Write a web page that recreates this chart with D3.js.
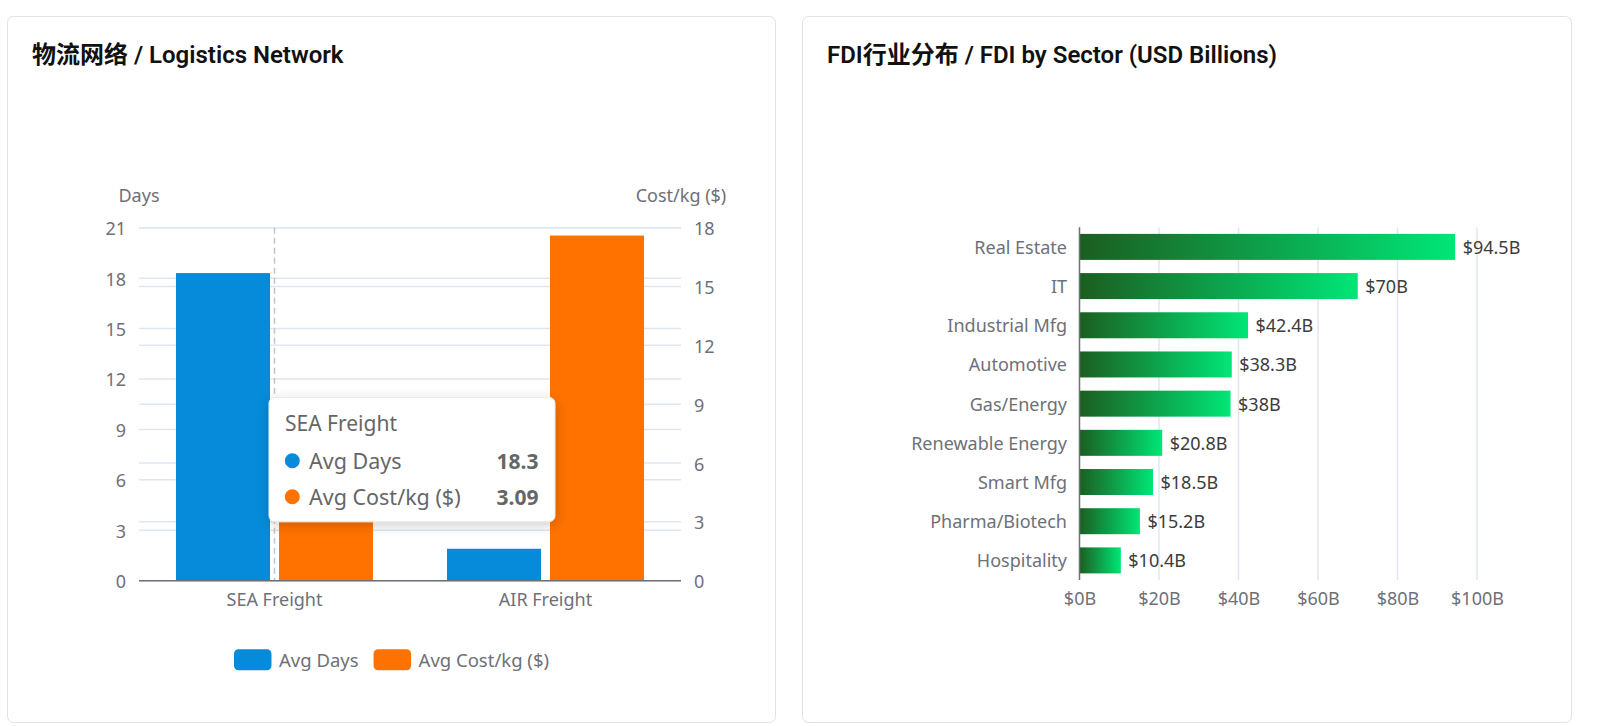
<!DOCTYPE html>
<html>
<head>
<meta charset="utf-8">
<script src="https://cdn.jsdelivr.net/npm/d3@7/dist/d3.min.js"></script>
<style>
  html, body { margin: 0; padding: 0; background: #fff; }
  svg { display: block; }
  text { font-family: "Noto Sans", "Noto Sans CJK SC", sans-serif; }
  .title { font-family: Roboto, "Noto Sans CJK SC", sans-serif; font-weight: 600; font-size: 24px; fill: #111; }
</style>
</head>
<body>
<svg id="chart" width="1599" height="726"></svg>
<script>
// ---------- DATA ----------
const logisticsCategories = ["SEA Freight", "AIR Freight"];
const logisticsSeries = ["Avg Days", "Avg Cost/kg ($)"];
const avgDays = [18.3, 1.9];
const avgCost = [3.09, 17.6];
const daysTicks = [0, 3, 6, 9, 12, 15, 18, 21];
const costTicks = [0, 3, 6, 9, 12, 15, 18];

const sectors = ["Real Estate", "IT", "Industrial Mfg", "Automotive", "Gas/Energy",
                 "Renewable Energy", "Smart Mfg", "Pharma/Biotech", "Hospitality"];
const fdiValues = [94.5, 70, 42.4, 38.3, 38, 20.8, 18.5, 15.2, 10.4];
const fdiTicks = [0, 20, 40, 60, 80, 100];

const seriesColors = ["#058bd9", "#ff7200"];
const axisColor = "#6e7079";
const gridColor = "#e0e6f1";

const svg = d3.select("#chart");

// ---------- defs ----------
const defs = svg.append("defs");
const grad = defs.append("linearGradient").attr("id", "greenGrad")
  .attr("x1", 0).attr("y1", 0).attr("x2", 1).attr("y2", 0);
grad.append("stop").attr("offset", "0%").attr("stop-color", "#1b5e20");
grad.append("stop").attr("offset", "100%").attr("stop-color", "#00e676");
const shadow = defs.append("filter").attr("id", "tipShadow")
  .attr("x", "-20%").attr("y", "-20%").attr("width", "140%").attr("height", "150%");
shadow.append("feDropShadow").attr("dx", 1).attr("dy", 3).attr("stdDeviation", 6)
  .attr("flood-color", "#000").attr("flood-opacity", 0.2);

// ---------- cards ----------
const cards = [
  { x: 7.5, y: 16.5, w: 768, h: 706, title: "物流网络 / Logistics Network" },
  { x: 802.5, y: 16.5, w: 769, h: 706, title: "FDI行业分布 / FDI by Sector (USD Billions)" }
];
cards.forEach(c => {
  svg.append("rect").attr("x", c.x).attr("y", c.y).attr("width", c.w).attr("height", c.h)
    .attr("rx", 6).attr("fill", "#fff").attr("stroke", "#e2e2e2").attr("stroke-width", 1);
  svg.append("text").attr("class", "title").attr("x", c.x + 24.5).attr("y", 55)
    .attr("dominant-baseline", "central").text(c.title);
});

// ---------- LEFT: logistics grouped bar, dual axis ----------
{
  const top = 227.7, bottom = 580.7, left = 139, right = 681;
  const yL = d3.scaleLinear().domain([0, 21]).range([bottom, top]);
  const yR = d3.scaleLinear().domain([0, 18]).range([bottom, top]);
  const x0 = d3.scaleBand().domain(logisticsCategories).range([left, right]);
  const x1 = d3.scaleBand().domain(logisticsSeries).range([0, x0.bandwidth()])
    .paddingInner(0.0874).paddingOuter(0.359);
  const g = svg.append("g");

  // grid lines from both axes
  g.append("g").selectAll("line").data(daysTicks).join("line")
    .attr("x1", left).attr("x2", right).attr("y1", d => yL(d)).attr("y2", d => yL(d))
    .attr("stroke", gridColor).attr("stroke-width", 1.5);
  g.append("g").selectAll("line").data(costTicks).join("line")
    .attr("x1", left).attr("x2", right).attr("y1", d => yR(d)).attr("y2", d => yR(d))
    .attr("stroke", gridColor).attr("stroke-width", 1.5);

  // axes labels via d3 axes
  const axL = g.append("g").attr("transform", `translate(${left},0)`)
    .call(d3.axisLeft(yL).tickValues(daysTicks).tickSize(0).tickPadding(13));
  const axR = g.append("g").attr("transform", `translate(${right},0)`)
    .call(d3.axisRight(yR).tickValues(costTicks).tickSize(0).tickPadding(13));
  [axL, axR].forEach(a => {
    a.select(".domain").remove();
    a.selectAll("text").attr("fill", axisColor).style("font-size", "18px")
      .style("font-family", '"Noto Sans", sans-serif').attr("dy", null)
      .attr("dominant-baseline", "central");
  });

  // axis names
  g.append("text").attr("x", left).attr("y", 195).attr("text-anchor", "middle")
    .attr("dominant-baseline", "central").attr("fill", axisColor).style("font-size", "18px").text("Days");
  g.append("text").attr("x", right).attr("y", 195).attr("text-anchor", "middle")
    .attr("dominant-baseline", "central").attr("fill", axisColor).style("font-size", "18px").text("Cost/kg ($)");

  // axis pointer (dashed) on SEA Freight
  const px = x0(logisticsCategories[0]) + x0.bandwidth() / 2;
  g.append("line").attr("x1", px).attr("x2", px).attr("y1", top).attr("y2", bottom)
    .attr("stroke", "#c4c4c4").attr("stroke-width", 1.5).attr("stroke-dasharray", "6,4");

  // bars
  const rows = logisticsCategories.map((c, i) => ({ c, vals: [
    { s: logisticsSeries[0], v: avgDays[i], y: yL, col: seriesColors[0] },
    { s: logisticsSeries[1], v: avgCost[i], y: yR, col: seriesColors[1] }
  ] }));
  const cat = g.append("g").selectAll("g").data(rows).join("g")
    .attr("transform", d => `translate(${x0(d.c)},0)`);
  cat.selectAll("rect").data(d => d.vals).join("rect")
    .attr("x", d => x1(d.s)).attr("width", x1.bandwidth())
    .attr("y", d => d.y(d.v)).attr("height", d => bottom - d.y(d.v))
    .attr("fill", d => d.col);

  // x axis
  g.append("line").attr("x1", left).attr("x2", right).attr("y1", bottom).attr("y2", bottom)
    .attr("stroke", axisColor).attr("stroke-width", 1.5);
  g.append("g").selectAll("text").data(logisticsCategories).join("text")
    .attr("x", d => x0(d) + x0.bandwidth() / 2).attr("y", 599.3)
    .attr("text-anchor", "middle").attr("dominant-baseline", "central")
    .attr("fill", axisColor).style("font-size", "18px").text(d => d);

  // legend
  const leg = g.append("g");
  let lx = 0;
  logisticsSeries.forEach((s, i) => {
    const it = leg.append("g").attr("transform", `translate(${lx},0)`);
    it.append("rect").attr("x", 0).attr("y", -10.5).attr("width", 37.5).attr("height", 21)
      .attr("rx", 4.5).attr("fill", seriesColors[i]);
    const t = it.append("text").attr("x", 45).attr("y", 0).attr("dominant-baseline", "central")
      .attr("fill", axisColor).style("font-size", "18.5px").text(s);
    lx += 45 + t.node().getComputedTextLength() + 15;
  });
  const legW = lx - 15;
  leg.attr("transform", `translate(${391.5 - legW / 2},659.7)`);

  // tooltip for SEA Freight
  const tip = g.append("g").attr("transform", `translate(${px - 5.5},397.3)`);
  tip.append("rect").attr("width", 286).attr("height", 124.5).attr("rx", 6)
    .attr("fill", "#fff").attr("stroke", "#e8e8e8").attr("stroke-width", 1)
    .attr("filter", "url(#tipShadow)");
  tip.append("text").attr("x", 16).attr("y", 26).attr("dominant-baseline", "central")
    .attr("fill", "#666").style("font-size", "21px").text(logisticsCategories[0]);
  const tipVals = [avgDays[0], avgCost[0]];
  logisticsSeries.forEach((s, i) => {
    const ry = 63.4 + i * 36;
    tip.append("circle").attr("cx", 23.3).attr("cy", ry).attr("r", 7.5).attr("fill", seriesColors[i]);
    tip.append("text").attr("x", 40).attr("y", ry).attr("dominant-baseline", "central")
      .attr("fill", "#666").style("font-size", "21.5px").text(s);
    tip.append("text").attr("x", 269.5).attr("y", ry).attr("text-anchor", "end")
      .attr("dominant-baseline", "central").attr("fill", "#666")
      .style("font-size", "21px").style("font-weight", "700").text(tipVals[i]);
  });
}

// ---------- RIGHT: FDI horizontal bar ----------
{
  const top = 227.3, bottom = 580, left = 1079.5, right = 1477;
  const x = d3.scaleLinear().domain([0, 100]).range([left, right]);
  const y = d3.scaleBand().domain(sectors).range([top, bottom]).paddingInner(0.3366).paddingOuter(0.1683);
  const g = svg.append("g");

  g.append("g").selectAll("line").data(fdiTicks.slice(1)).join("line")
    .attr("x1", d => x(d)).attr("x2", d => x(d)).attr("y1", top).attr("y2", bottom)
    .attr("stroke", gridColor).attr("stroke-width", 1.5);

  const ax = g.append("g").attr("transform", `translate(0,${bottom})`)
    .call(d3.axisBottom(x).tickValues(fdiTicks).tickSize(0).tickPadding(0).tickFormat(d => `$${d}B`));
  ax.select(".domain").remove();
  ax.selectAll("text").attr("fill", axisColor).style("font-size", "18px")
    .style("font-family", '"Noto Sans", sans-serif')
    .attr("y", 18.3).attr("dy", null).attr("dominant-baseline", "central");

  g.append("g").selectAll("rect").data(sectors).join("rect")
    .attr("x", left).attr("y", d => y(d)).attr("height", y.bandwidth())
    .attr("width", (d, i) => x(fdiValues[i]) - left)
    .attr("fill", "url(#greenGrad)");

  g.append("g").selectAll("text").data(sectors).join("text")
    .attr("x", (d, i) => x(fdiValues[i]) + 7.5).attr("y", d => y(d) + y.bandwidth() / 2)
    .attr("dominant-baseline", "central").attr("fill", "#3c3c3c").style("font-size", "18px")
    .text((d, i) => `$${fdiValues[i]}B`);

  g.append("g").selectAll("text").data(sectors).join("text")
    .attr("x", left - 12.5).attr("y", d => y(d) + y.bandwidth() / 2)
    .attr("text-anchor", "end").attr("dominant-baseline", "central")
    .attr("fill", axisColor).style("font-size", "18px").text(d => d);

  g.append("line").attr("x1", left).attr("x2", left).attr("y1", top).attr("y2", bottom)
    .attr("stroke", axisColor).attr("stroke-width", 1.5);
}
</script>
</body>
</html>
